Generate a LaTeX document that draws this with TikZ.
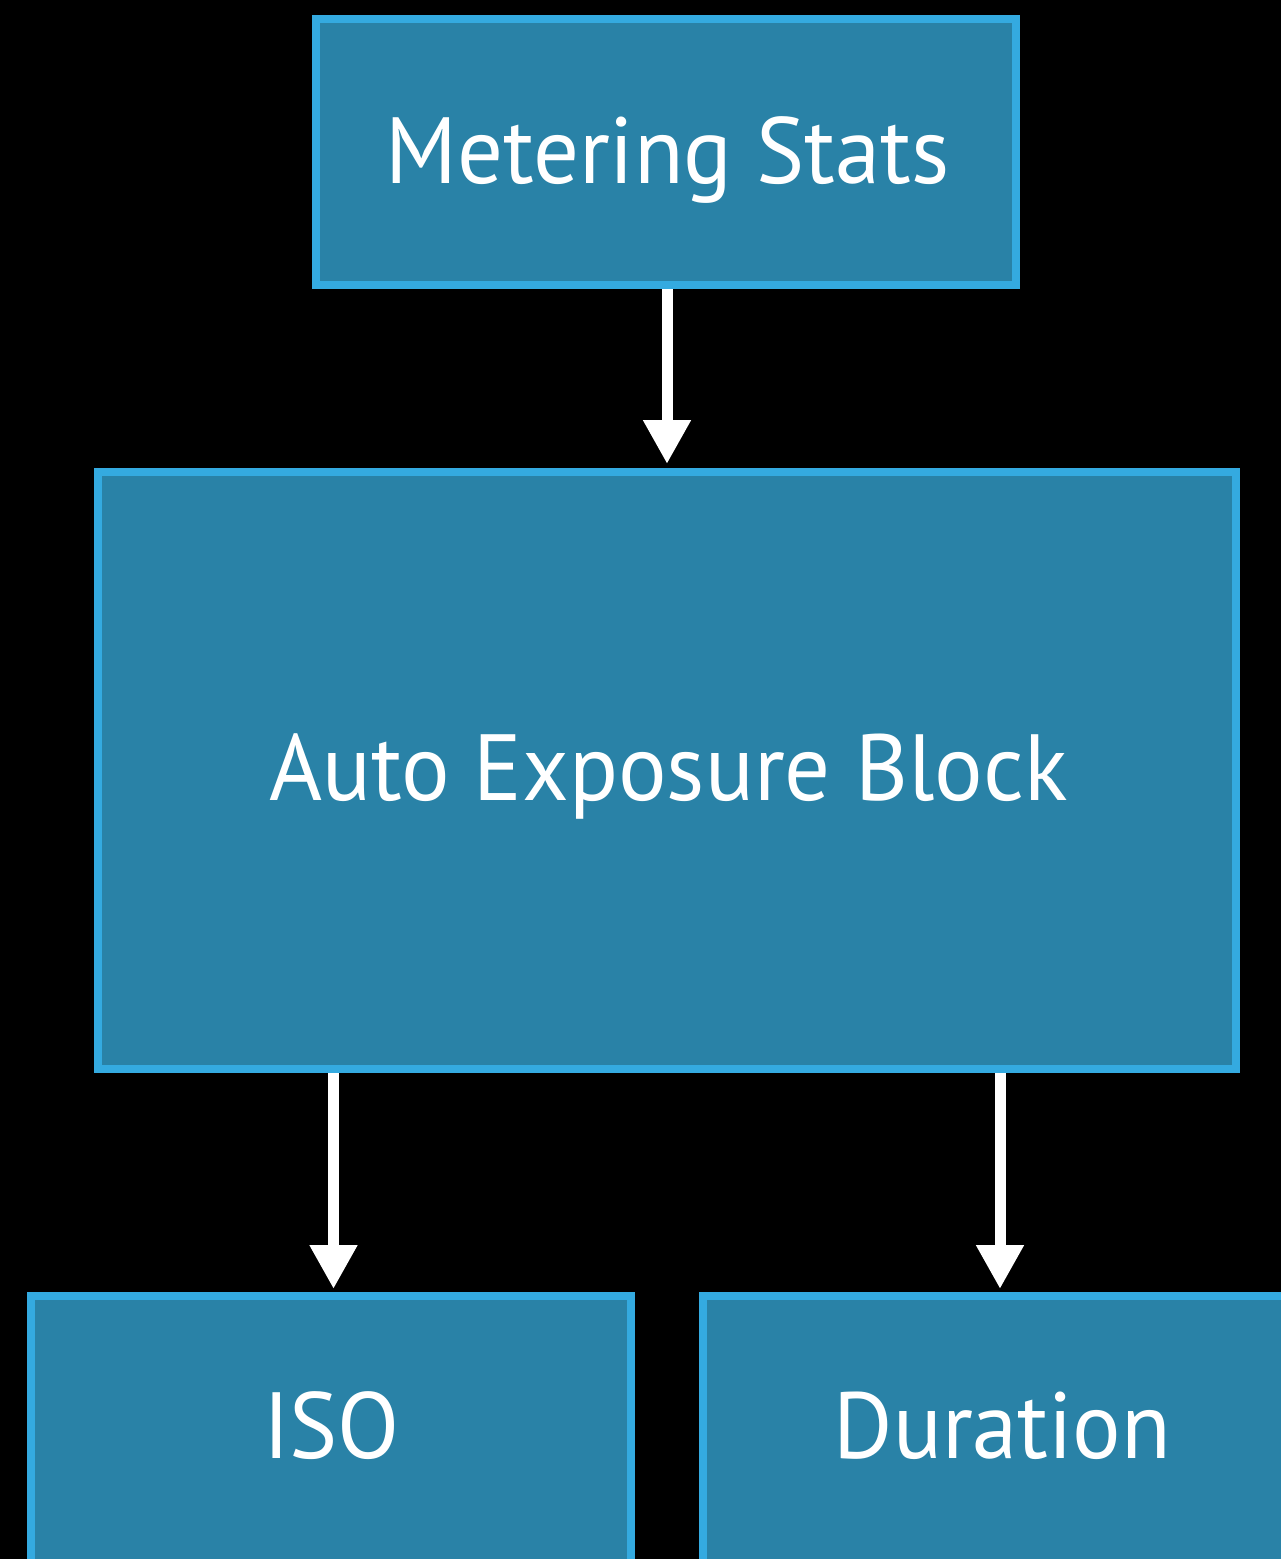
\documentclass[tikz,border=0pt]{standalone}
\usepackage{fontspec}
\setmainfont[FakeStretch=0.965]{PT Sans}
\usetikzlibrary{arrows.meta}
\definecolor{boxfill}{RGB}{41,130,167}
\definecolor{boxline}{RGB}{52,170,224}
\begin{document}
\begin{tikzpicture}[x=1pt,y=-1pt,
  block/.style={draw=boxline,fill=boxfill,line width=8pt,rectangle,inner sep=0pt},
  lbl/.style={anchor=base,text=white,inner sep=0pt,font=\fontsize{94}{100}\selectfont},
  flow/.style={draw=white,line width=11pt,-{Triangle[width=45pt,length=44pt]},shorten <=0pt}]
  % page and background
  \fill[black] (0,0) rectangle (1281,1559);
  \useasboundingbox (0,0) rectangle (1281,1559);

  % blocks
  \node[block,minimum width=700pt,minimum height=266pt] (ms) at (666,152) {};
  \node[block,minimum width=1138pt,minimum height=597pt] (ae) at (667,770.5) {};
  \node[block,minimum width=600pt,minimum height=404pt] (iso) at (331,1498) {};
  \node[block,minimum width=600pt,minimum height=404pt] (dur) at (1003,1498) {};

  % labels
  \node[lbl] (msT) at (667.5,183) {Metering Stats};
  \node[lbl] (aeT) at (668.5,800) {Auto Exposure Block};
  \node[lbl] (isoT) at (331.5,1458) {ISO};
  \node[lbl] (durT) at (1002.5,1458) {Duration};

  % connectors
  \draw[flow,shorten >=4pt] (ms.south -| 667,0) -- (ae.north -| 667,0);
  \draw[flow,shorten >=3pt] (ae.south -| 333.5,0) -- (iso.north -| 333.5,0);
  \draw[flow,shorten >=3pt] (ae.south -| 1000,0) -- (dur.north -| 1000,0);
\end{tikzpicture}
\end{document}
